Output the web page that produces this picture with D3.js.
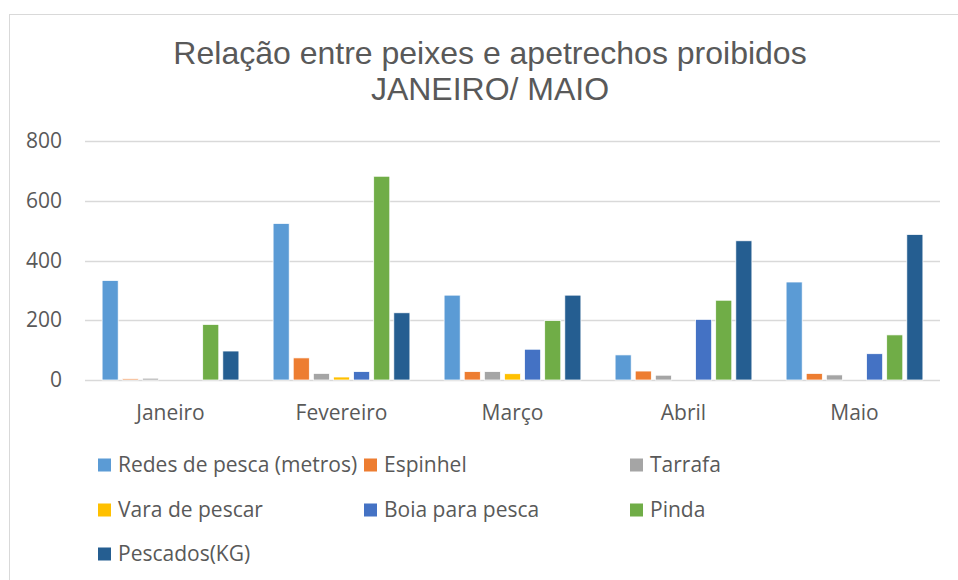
<!DOCTYPE html>
<meta charset="utf-8">
<style>
body { margin: 0; background: #fff; }
text { fill: #595959; }
.title { font-family: "Liberation Sans", Arial, sans-serif; font-size: 32px; }
.axis text, .legend text { font-family: "Open Sans", "Noto Sans", sans-serif; font-size: 21px; }
</style>
<body>
<script src="https://d3js.org/d3.v7.min.js"></script>
<script>

var months = ["Janeiro", "Fevereiro", "Março", "Abril", "Maio"];
var seriesNames = ["Redes de pesca (metros)", "Espinhel", "Tarrafa", "Vara de pescar",
                   "Boia para pesca", "Pinda", "Pescados(KG)"];
var colors = ["#5B9BD5", "#ED7D31", "#A5A5A5", "#FFC000", "#4472C4", "#70AD47", "#255E91"];

// one array per series, values per month
var redes    = [333, 524, 284, 84, 328];
var espinhel = [4, 74, 28, 30, 22];
var tarrafa  = [6, 22, 28, 16, 17];
var vara     = [0, 10, 21, 0, 0];
var boia     = [0, 28, 103, 203, 88];
var pinda    = [186, 682, 199, 267, 151];
var pescados = [97, 225, 284, 466, 487];
var yTicks = [0, 200, 400, 600, 800];

var seriesValues = [redes, espinhel, tarrafa, vara, boia, pinda, pescados];

var width = 958, height = 580;
var plot = {left: 85, right: 940, top: 141, bottom: 380};

var svg = d3.select("body").append("svg")
    .attr("width", width)
    .attr("height", height);

// chart border
svg.append("rect")
    .attr("x", 9.5).attr("y", 14.5)
    .attr("width", 970).attr("height", 600)
    .attr("fill", "none")
    .attr("stroke", "#D9D9D9");

svg.append("text").attr("class", "title")
    .attr("x", 490).attr("y", 64)
    .attr("text-anchor", "middle")
    .text("Relação entre peixes e apetrechos proibidos");
svg.append("text").attr("class", "title")
    .attr("x", 490).attr("y", 100)
    .attr("text-anchor", "middle")
    .text("JANEIRO/ MAIO");

var x0 = d3.scaleBand()
    .domain(months)
    .range([plot.left, plot.right])
    .paddingInner(0.2)
    .paddingOuter(0.1);

var x1 = d3.scaleBand()
    .domain(d3.range(seriesNames.length))
    .range([0, x0.bandwidth()])
    .paddingInner(0.2);

var y = d3.scaleLinear()
    .domain([0, 800])
    .range([plot.bottom, plot.top]);

// gridlines
svg.append("g")
  .selectAll("line")
  .data(yTicks)
  .join("line")
    .attr("x1", plot.left).attr("x2", plot.right)
    .attr("y1", function(d) { return Math.round(y(d)) + 0.5; })
    .attr("y2", function(d) { return Math.round(y(d)) + 0.5; })
    .attr("stroke", "#D9D9D9")
    .attr("stroke-width", 1.3);

// y axis labels
var yAxis = svg.append("g")
    .attr("class", "axis")
    .attr("transform", "translate(" + (plot.left - 23) + ",0)")
    .call(d3.axisLeft(y).tickValues(yTicks).tickSize(0).tickPadding(0));
yAxis.select(".domain").remove();

// x axis labels
var xAxis = svg.append("g")
    .attr("class", "axis")
    .attr("transform", "translate(0," + plot.bottom + ")")
    .call(d3.axisBottom(x0).tickSize(0).tickPadding(0));
xAxis.select(".domain").remove();
xAxis.selectAll("text").attr("y", 40).attr("dy", 0);

// bars
var groups = svg.append("g")
  .selectAll("g")
  .data(months)
  .join("g")
    .attr("transform", function(d) { return "translate(" + x0(d) + ",0)"; });

groups.selectAll("rect")
  .data(function(d, i) {
    return seriesValues.map(function(vals, s) { return {s: s, v: vals[i]}; });
  })
  .join("rect")
    .filter(function(d) { return d.v > 0; })
    .attr("x", function(d) { return x1(d.s); })
    .attr("width", x1.bandwidth())
    .attr("y", function(d) { return y(d.v); })
    .attr("height", function(d) { return y(0) - y(d.v); })
    .attr("fill", function(d) { return colors[d.s]; })
    .attr("stroke", "#fff")
    .attr("stroke-width", 0.75);

// legend
var legendCols = [98, 364, 630];
var legendRows = [465, 510, 554];

var legend = svg.append("g")
    .attr("class", "legend")
  .selectAll("g")
  .data(seriesNames)
  .join("g")
    .attr("transform", function(d, i) {
      return "translate(" + legendCols[i % 3] + "," + legendRows[Math.floor(i / 3)] + ")";
    });

legend.append("rect")
    .attr("x", 0).attr("y", -6.5)
    .attr("width", 13).attr("height", 13)
    .attr("fill", function(d, i) { return colors[i]; });

legend.append("text")
    .attr("x", 20)
    .attr("dy", "0.35em")
    .text(function(d) { return d; });

</script>
</body>
